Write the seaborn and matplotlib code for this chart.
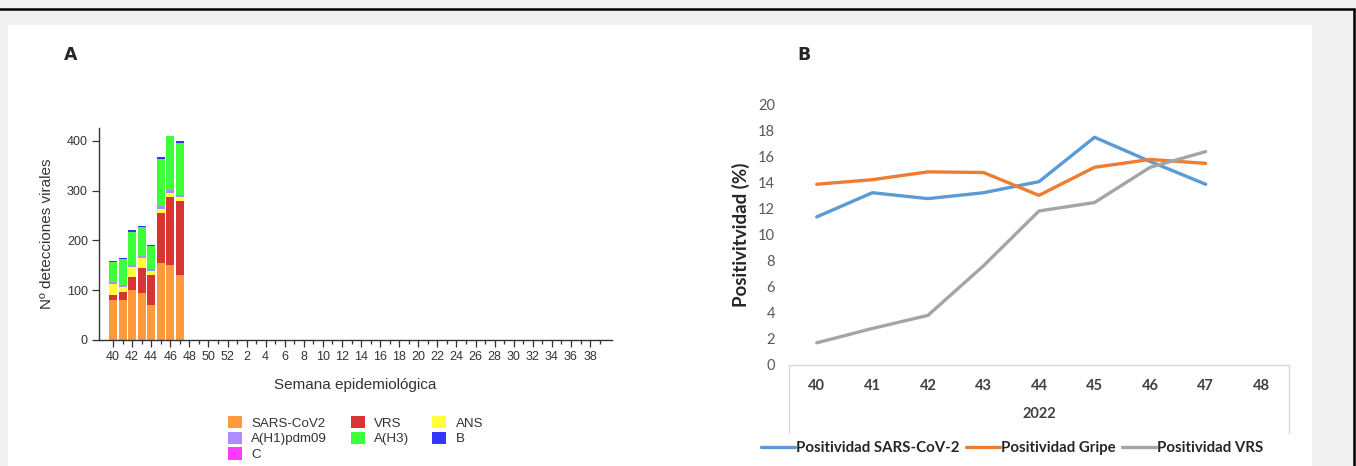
import numpy as np
import pandas as pd
import matplotlib
matplotlib.use("Agg")
import matplotlib.pyplot as plt
import seaborn as sns
from matplotlib.patches import Rectangle, Patch
from matplotlib.lines import Line2D

# ---------------- data ----------------
weeks_all = list(range(40, 53)) + list(range(1, 40))   # epidemiological weeks on axis A
weeks_data = [40, 41, 42, 43, 44, 45, 46, 47]
sars = [80, 80, 100, 94, 70, 155, 151, 131]
vrs = [10, 16, 27, 50, 61, 101, 136, 148]
ans = [22, 11, 19, 20, 8, 7, 9, 8]
h1 = [4, 3, 5, 4, 4, 6, 5, 4]
h3 = [41, 52, 67, 59, 46, 95, 108, 104]
fluB = [2, 3, 3, 2, 2, 4, 1, 5]
fluC = [0, 0, 0, 0, 0, 0, 0, 0]

weeks_b = [40, 41, 42, 43, 44, 45, 46, 47, 48]
pos_sars = [11.35, 13.2, 12.75, 13.2, 14.05, 17.45, 15.6, 13.85]
pos_gripe = [13.85, 14.2, 14.8, 14.75, 13.0, 15.15, 15.75, 15.45]
pos_vrs = [1.7, 2.8, 3.8, 7.6, 11.8, 12.45, 15.15, 16.35]

series_a = [("SARS-CoV2", sars, "#ff9a3c"), ("VRS", vrs, "#d83434"),
            ("ANS", ans, "#ffff3a"), ("A(H1)pdm09", h1, "#ad8cff"),
            ("A(H3)", h3, "#3dff3a"), ("B", fluB, "#3535ff"),
            ("C", fluC, "#ff3aff")]

# ---------------- figure ----------------
sns.set_theme(style="white")
plt.rcParams["font.family"] = ["Liberation Sans", "DejaVu Sans"]

fig = plt.figure(figsize=(13.56, 4.66), dpi=100)
fig.patch.set_facecolor("#f1f1f1")
W, H = 1356.0, 466.0
fig.patches.append(Rectangle((8 / W, 0), (1312 - 8) / W, (H - 25) / H,
                             transform=fig.transFigure, facecolor="white",
                             edgecolor="none", zorder=-10))
fig.add_artist(Line2D([0, 1354 / W], [(H - 8.5) / H] * 2, transform=fig.transFigure,
                      color="black", lw=1.8))
fig.add_artist(Line2D([1354 / W] * 2, [0, (H - 8.5) / H], transform=fig.transFigure,
                      color="black", lw=1.8))

# ---------------- panel A ----------------
axA = fig.add_axes([99 / W, (H - 340) / H, (612 - 99) / W, (340 - 128) / H])
axA.set_facecolor("none")
order = [str(w) for w in weeks_all]
df_a = pd.DataFrame({"week": [str(w) for w in weeks_data]})
cum = np.zeros(len(weeks_data))
cums = []
for name, vals, col in series_a:
    cum = cum + np.array(vals, dtype=float)
    cums.append((name, cum.copy(), col))
for name, cvals, col in reversed(cums):
    d = df_a.copy()
    d["v"] = cvals
    sns.barplot(data=d, x="week", y="v", order=order, color=col, width=0.84,
                saturation=1, edgecolor="none", ax=axA, errorbar=None)

axA.set_xlim(-1.47, 52.3)
axA.set_ylim(0, 426)
axA.set_yticks([0, 100, 200, 300, 400])
axA.set_xticks(range(0, 52, 2))
axA.set_xticklabels([str(w) for w in weeks_all[::2]])
axA.set_xticks(range(1, 52, 2), minor=True)
for s in ["top", "right"]:
    axA.spines[s].set_visible(False)
for s in ["left", "bottom"]:
    axA.spines[s].set_color("#333333")
    axA.spines[s].set_linewidth(1.0)
axA.tick_params(axis="both", which="major", direction="out", length=5, width=0.9,
                color="#333333", labelsize=9, labelcolor="#333333", pad=3,
                bottom=True, left=True)
axA.tick_params(axis="x", which="minor", direction="out", length=3, width=0.9,
                color="#333333", bottom=True)
axA.set_xlabel("Semana epidemiológica", fontsize=11, color="#333333", labelpad=11)
axA.set_ylabel("Nº detecciones virales", fontsize=11, color="#333333", labelpad=9)

handles = {name: Patch(facecolor=col, edgecolor="none") for name, _, col in series_a}
leg_order = ["SARS-CoV2", "A(H1)pdm09", "C", "VRS", "A(H3)", "ANS", "B"]
fig.legend([handles[n] for n in leg_order], leg_order, ncol=3, loc="upper left",
           bbox_to_anchor=(228 / W, (H - 416) / H), frameon=False, fontsize=9.6,
           handlelength=1.05, handleheight=1.05, handletextpad=0.7,
           columnspacing=1.75, labelspacing=0.15, borderpad=0, borderaxespad=0,
           labelcolor="#333333")

fig.text(64 / W, (H - 55) / H, "A", fontsize=12.5, fontweight="bold",
         family=["Liberation Sans Narrow", "DejaVu Sans"], va="center")
fig.text(797 / W, (H - 55) / H, "B", fontsize=12.5, fontweight="bold",
         family=["Liberation Sans Narrow", "DejaVu Sans"], va="center")

# ---------------- panel B ----------------
axB = fig.add_axes([789 / W, (H - 365) / H, 500 / W, (365 - 104) / H])
axB.set_facecolor("none")
names_b = ["Positividad SARS-CoV-2", "Positividad Gripe", "Positividad VRS"]
df_b = pd.DataFrame({
    "semana": weeks_b[:8] * 3,
    "pos": pos_sars + pos_gripe + pos_vrs,
    "serie": [names_b[0]] * 8 + [names_b[1]] * 8 + [names_b[2]] * 8,
})
pal = {names_b[0]: "#5b9bd5", names_b[1]: "#ed7d31", names_b[2]: "#a5a5a5"}
sns.lineplot(data=df_b, x="semana", y="pos", hue="serie", palette=pal,
             linewidth=2.4, ax=axB, legend=True)
axB.set_xlim(39.5, 48.5)
axB.set_ylim(0, 20)
axB.set_yticks(range(0, 21, 2))
axB.set_xticks(weeks_b)
fontB = ["Lato", "DejaVu Sans"]
axB.set_xticklabels([str(w) for w in weeks_b], fontweight="bold", family=fontB)
axB.set_yticklabels([str(v) for v in range(0, 21, 2)], family=fontB)
for s in ["top", "right", "left"]:
    axB.spines[s].set_visible(False)
axB.spines["bottom"].set_color("#d9d9d9")
axB.spines["bottom"].set_linewidth(1.0)
axB.tick_params(axis="y", length=0, labelsize=10.5, labelcolor="#595959", pad=10)
axB.tick_params(axis="x", length=0, labelsize=10.5, labelcolor="#404040", pad=10)
for xa in [0, 1]:
    axB.add_artist(Line2D([xa, xa], [0, -0.26], transform=axB.transAxes,
                          color="#d9d9d9", lw=1.0, clip_on=False))
axB.set_xlabel("2022", fontsize=10.5, fontweight="bold", family=fontB,
               color="#404040", labelpad=10)
axB.set_ylabel("Positivitvidad (%)", fontsize=13.5, fontweight="bold", family=fontB,
               color="#262626", labelpad=6)
h, l = axB.get_legend_handles_labels()
axB.legend(h, l, ncol=3, loc="center", bbox_to_anchor=(1012 / W, (H - 448) / H),
           bbox_transform=fig.transFigure, frameon=False,
           prop={"family": fontB, "weight": "bold", "size": 10.8},
           handlelength=2.3, handletextpad=0.05, columnspacing=0.4,
           labelcolor="#262626")

fig.savefig("out.png", dpi=100, facecolor=fig.get_facecolor())
